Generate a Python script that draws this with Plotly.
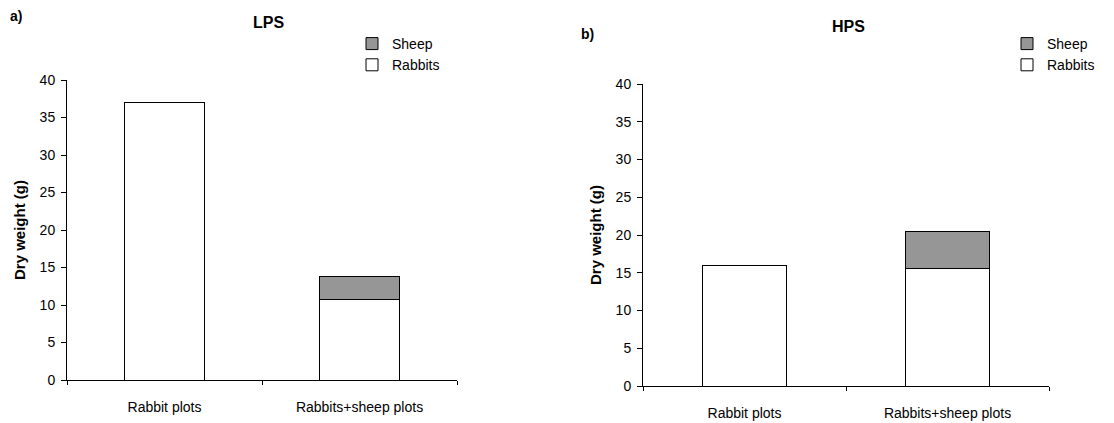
import plotly.graph_objects as go

categories = ["Rabbit plots", "Rabbits+sheep plots"]
lps_rabbits = [37.0, 10.8]
lps_sheep = [None, 3.0]
hps_rabbits = [16.0, 15.5]
hps_sheep = [None, 5.0]
y_ticks = [0, 5, 10, 15, 20, 25, 30, 35, 40]

W, H = 1114, 423
OFF = 8  # page body margin offset
FONT = "Liberation Sans, Arial, sans-serif"
GRAY = "#969696"


def px(x):
    return (x - OFF) / W


def py(y):
    return 1 - (y - OFF) / H


fig = go.Figure()


def add_panel(rabbits, sheep, xa, ya, leg):
    fig.add_trace(go.Bar(x=categories, y=rabbits, name="Rabbits", xaxis=xa, yaxis=ya,
                         marker=dict(color="white", line=dict(color="black", width=1)),
                         width=0.41, legend=leg, legendgroup=leg + "r"))
    fig.add_trace(go.Bar(x=categories, y=sheep, name="Sheep", xaxis=xa, yaxis=ya,
                         marker=dict(color=GRAY, line=dict(color="black", width=1)),
                         width=0.41, legend=leg, legendgroup=leg + "s"))


add_panel(lps_rabbits, lps_sheep, "x", "y", "legend")
add_panel(hps_rabbits, hps_sheep, "x2", "y2", "legend2")


def xaxis(dom, anchor):
    return dict(domain=dom, anchor=anchor, type="category", range=[-0.5, 1.5],
                showline=True, linecolor="black", linewidth=1, ticks="outside",
                tickson="boundaries", ticklen=4, tickcolor="black", showgrid=False,
                automargin=False, ticklabelstandoff=14,
                tickfont=dict(size=14, color="black", family=FONT), fixedrange=True)


def yaxis(dom, anchor):
    return dict(domain=dom, anchor=anchor, range=[0, 40], tickvals=y_ticks,
                showline=True, linecolor="black", linewidth=1, ticks="outside",
                ticklen=5, tickcolor="black", showgrid=False, zeroline=False,
                automargin=False, ticklabelstandoff=3,
                tickfont=dict(size=14, color="black", family=FONT),
                title=dict(text="<b>Dry weight (g)</b>", standoff=10,
                           font=dict(size=15, color="black", family=FONT)))


legend_common = dict(traceorder="reversed", tracegroupgap=6, itemwidth=30,
                     font=dict(size=14, color="black", family=FONT),
                     bgcolor="rgba(0,0,0,0)", yanchor="top", xanchor="left")


def ann(text, x, y, size):
    return dict(text=text, x=px(x), y=py(y), xref="paper", yref="paper",
                xanchor="center", yanchor="middle", showarrow=False,
                font=dict(size=size, color="black", family=FONT))


fig.update_layout(
    width=W, height=H, margin=dict(l=0, r=0, t=0, b=0, autoexpand=False),
    paper_bgcolor="white", plot_bgcolor="white", barmode="stack",
    font=dict(family=FONT, color="black"),
    xaxis=xaxis([px(67), px(457)], "y"),
    yaxis=yaxis([py(380), py(80)], "x"),
    xaxis2=xaxis([px(643), px(1049)], "y2"),
    yaxis2=yaxis([py(386), py(84)], "x2"),
    legend=dict(x=px(352), y=py(28), **legend_common),
    legend2=dict(x=px(1007), y=py(28), **legend_common),
    annotations=[
        ann("<b>LPS</b>", 268, 22, 16),
        ann("<b>HPS</b>", 848, 27, 16),
        ann("<b>a)</b>", 16, 16, 14),
        ann("<b>b)</b>", 587, 34, 14),
    ],
)

fig.write_html("out.html")
